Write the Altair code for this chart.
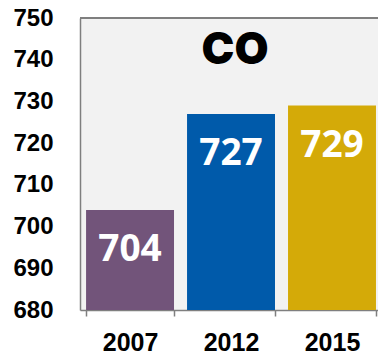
import altair as alt
import pandas as pd

years = ["2007", "2012", "2015"]
values = [704, 727, 729]
colors = ["#72547A", "#005AAA", "#D4AA08"]
panel_title = "CO"
y_ticks = [680, 690, 700, 710, 720, 730, 740, 750]
y_domain = [680, 750]

df = pd.DataFrame({"year": years, "value": values, "color": colors})
title_df = pd.DataFrame({"year": ["2012"], "value": [742], "label": [panel_title]})

W, H = 298, 292
GRAY = "#7f7f7f"

x_enc = alt.X(
    "year:N", sort=years, title=None,
    scale=alt.Scale(paddingInner=0.129, paddingOuter=0.04, align=0.75),
    axis=alt.Axis(labelAngle=0, labelFont="Liberation Sans", labelFontSize=25,
                  labelFontWeight="bold", labelColor="#000000", domainColor=GRAY,
                  domainWidth=1.5, tickColor=GRAY, tickSize=6, tickWidth=1.5,
                  tickBand="extent", labelPadding=14),
)
y_enc = alt.Y(
    "value:Q", title=None,
    scale=alt.Scale(domain=y_domain, nice=False, zero=False),
    axis=alt.Axis(values=y_ticks, ticks=False, grid=False, labelPadding=27,
                  labelFont="Liberation Sans", labelFontSize=24, labelFontWeight="bold",
                  labelColor="#000000", domainColor=GRAY, domainWidth=1.5),
)

base = alt.Chart(df)
bars = base.mark_bar().encode(
    x=x_enc, y=y_enc, y2=alt.datum(680),
    color=alt.Color("color:N", scale=None, legend=None),
)
labels = base.mark_text(baseline="middle", align="center", dy=40, color="white",
                        font="Open Sans", fontSize=37, fontWeight="bold").encode(
    x=alt.X("year:N", sort=years), y=alt.Y("value:Q"), text=alt.Text("value:Q"),
)
title_mark = alt.Chart(title_df).mark_text(baseline="middle", align="center", dx=4,
                                           color="black", font="Inter",
                                           fontSize=44, fontWeight=900).encode(
    x=alt.X("year:N", sort=years), y=alt.Y("value:Q"), text="label:N",
)
top_rule = alt.Chart(df).mark_rule(color=GRAY, strokeWidth=2).encode(
    x=alt.value(0), x2=alt.value(W), y=alt.value(0)
)

chart = alt.layer(bars, labels, title_mark, top_rule).properties(
    width=W, height=H,
    autosize=alt.AutoSizeParams(type="none"),
    padding={"left": 80, "top": 18, "right": 0, "bottom": 44},
    background="white",
).configure_view(fill="#F2F2F2", stroke=None)

chart.save("out.html", embed_options={"renderer": "svg", "actions": False})
